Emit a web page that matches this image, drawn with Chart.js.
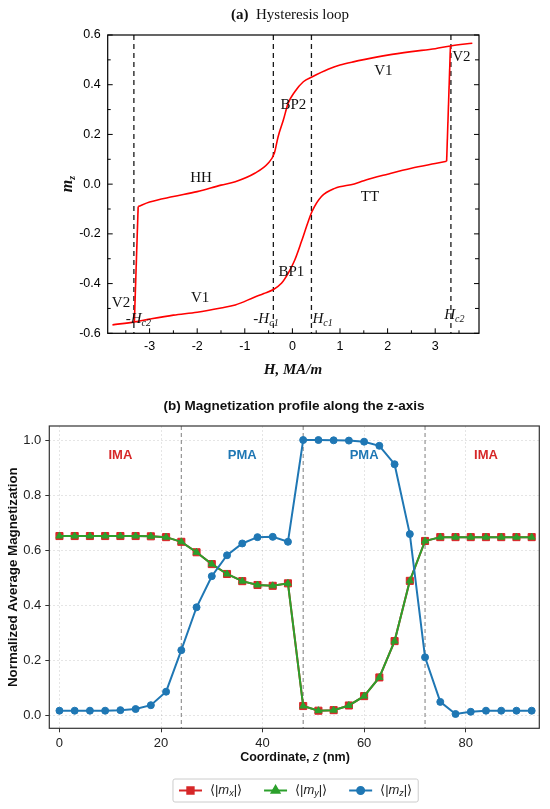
<!DOCTYPE html>
<html>
<head>
<meta charset="utf-8">
<script src="https://cdn.jsdelivr.net/npm/chart.js@4.4.1/dist/chart.umd.min.js"></script>
<style>
  html, body { margin: 0; padding: 0; background: #fff; }
  #wrapTop { position: absolute; left: 0; top: 0; width: 550px; height: 390px; }
  #wrapBottom { position: absolute; left: 0; top: 390px; width: 550px; height: 419px; }
</style>
</head>
<body>
<div id="wrapTop"><canvas id="loopChart"></canvas></div>
<div id="wrapBottom"><canvas id="profileChart"></canvas></div>
<script>
// (a) hysteresis loop - branch traced while H increases
var hUp = [-3.78, -3.31, -3.0, -2.5, -2.0, -1.5, -1.2, -0.8, -0.6, -0.4, -0.23, -0.09, 0.05, 0.19, 0.32, 0.41, 0.61, 0.89, 1.3, 1.5, 2.0, 2.5, 3.0, 3.24];
var mUp = [-0.566, -0.554, -0.543, -0.527, -0.515, -0.498, -0.486, -0.455, -0.440, -0.424, -0.399, -0.359, -0.305, -0.231, -0.157, -0.111, -0.050, -0.017, 0.001, 0.014, 0.040, 0.064, 0.083, 0.092];
var hJumpUp = [3.24, 3.32];
var mJumpUp = [0.092, 0.556];

// branch traced while H decreases (listed left to right)
var hDown = [-3.24, -3.0, -2.5, -2.0, -1.5, -1.2, -0.79, -0.51, -0.38, -0.30, -0.19, -0.09, 0.05, 0.23, 0.42, 0.75, 1.0, 1.3, 1.5, 2.0, 2.5, 3.0, 3.32, 3.78];
var mDown = [-0.090, -0.072, -0.050, -0.030, -0.004, 0.010, 0.044, 0.084, 0.124, 0.191, 0.258, 0.325, 0.372, 0.412, 0.432, 0.462, 0.479, 0.493, 0.501, 0.519, 0.533, 0.545, 0.556, 0.567];
var hJumpDown = [-3.32, -3.24];
var mJumpDown = [-0.554, -0.090];

var hcLines = [-3.33, -0.4, 0.4, 3.33];
var hTicks = [-3, -2, -1, 0, 1, 2, 3];
var hMinor = [-3.5, -2.5, -1.5, -0.5, 0.5, 1.5, 2.5, 3.5];
var mTicks = [-0.6, -0.4, -0.2, 0.0, 0.2, 0.4, 0.6];
var mMinor = [-0.5, -0.3, -0.1, 0.1, 0.3, 0.5];

var loopNotes = ["V2", "V1", "BP2", "HH", "TT", "BP1", "V1", "V2"];
var loopNoteH = [3.55, 1.91, 0.02, -1.92, 1.63, -0.02, -1.94, -3.6];
var loopNoteM = [0.513, 0.453, 0.318, 0.024, -0.05, -0.352, -0.459, -0.479];

// (b) magnetization profile
var zCoord = [0, 3, 6, 9, 12, 15, 18, 21, 24, 27, 30, 33, 36, 39, 42, 45, 48, 51, 54, 57, 60, 63, 66, 69, 72, 75, 78, 81, 84, 87, 90, 93];
var mxAvg = [0.651, 0.651, 0.651, 0.651, 0.651, 0.651, 0.650, 0.647, 0.630, 0.592, 0.549, 0.513, 0.487, 0.473, 0.470, 0.479, 0.033, 0.016, 0.018, 0.035, 0.069, 0.137, 0.269, 0.488, 0.633, 0.647, 0.647, 0.647, 0.647, 0.647, 0.647, 0.647];
var myAvg = [0.651, 0.651, 0.651, 0.651, 0.651, 0.651, 0.650, 0.647, 0.630, 0.592, 0.549, 0.513, 0.487, 0.473, 0.470, 0.479, 0.033, 0.016, 0.018, 0.035, 0.069, 0.137, 0.269, 0.488, 0.633, 0.647, 0.647, 0.647, 0.647, 0.647, 0.647, 0.647];
var mzAvg = [0.016, 0.016, 0.016, 0.016, 0.018, 0.022, 0.036, 0.085, 0.236, 0.392, 0.505, 0.581, 0.624, 0.647, 0.648, 0.630, 1.000, 1.000, 0.999, 0.998, 0.994, 0.979, 0.912, 0.658, 0.210, 0.048, 0.004, 0.012, 0.016, 0.016, 0.016, 0.016];
var layerBounds = [24, 48, 72];
var layerNames = ["IMA", "PMA", "PMA", "IMA"];
var layerNameZ = [12, 36, 60, 84];
var zTicks = [0, 20, 40, 60, 80];
var profTicks = [0.0, 0.2, 0.4, 0.6, 0.8, 1.0];

var serif = '"Liberation Serif", "Times New Roman", serif';
var sans = '"Liberation Sans", Arial, sans-serif';

function toPoints(xs, ys) {
  return xs.map(function (x, i) { return { x: x, y: ys[i] }; });
}

// draws a row of text pieces with different fonts
function drawRuns(ctx, runs, x, y, align) {
  var total = 0;
  runs.forEach(function (r) { ctx.font = r.font; r.w = ctx.measureText(r.text).width; total += r.w; });
  var cx = align === "center" ? x - total / 2 : (align === "right" ? x - total : x);
  ctx.textAlign = "left";
  runs.forEach(function (r) {
    ctx.font = r.font;
    ctx.fillText(r.text, cx, y + (r.dy || 0));
    cx += r.w;
  });
}

function line(ctx, x1, y1, x2, y2) {
  ctx.beginPath();
  ctx.moveTo(x1, y1);
  ctx.lineTo(x2, y2);
  ctx.stroke();
}

//CHART (a)

var loopDecor = {
  id: "loopDecor",
  beforeDatasetsDraw: function (chart) {
    var ctx = chart.ctx, a = chart.chartArea, xs = chart.scales.x;
    ctx.save();
    ctx.strokeStyle = "#1a1a1a";
    ctx.lineWidth = 1.3;
    ctx.setLineDash([5, 4]);
    hcLines.forEach(function (h) {
      var px = xs.getPixelForValue(h);
      line(ctx, px, a.top, px, a.bottom);
    });
    ctx.restore();
  },
  afterDraw: function (chart) {
    var ctx = chart.ctx, a = chart.chartArea, xs = chart.scales.x, ys = chart.scales.y;
    ctx.save();
    ctx.strokeStyle = "#000";
    ctx.lineWidth = 1.2;
    ctx.strokeRect(a.left, a.top, a.right - a.left, a.bottom - a.top);

    // inward ticks
    ctx.lineWidth = 1;
    hTicks.forEach(function (v) { var px = xs.getPixelForValue(v); line(ctx, px, a.bottom, px, a.bottom - 5); });
    hMinor.forEach(function (v) { var px = xs.getPixelForValue(v); line(ctx, px, a.bottom, px, a.bottom - 3); });
    mTicks.forEach(function (v) {
      var py = ys.getPixelForValue(v);
      line(ctx, a.left, py, a.left + 5, py);
      line(ctx, a.right, py, a.right - 5, py);
    });
    mMinor.forEach(function (v) {
      var py = ys.getPixelForValue(v);
      line(ctx, a.left, py, a.left + 3, py);
      line(ctx, a.right, py, a.right - 4, py);
    });

    ctx.fillStyle = "#111";
    ctx.textBaseline = "middle";
    drawRuns(ctx, [
      { text: "(a)", font: "bold 15px " + serif },
      { text: "  Hysteresis loop", font: "15px " + serif }
    ], 290, 15, "center");

    drawRuns(ctx, [{ text: "H, MA/m", font: "italic bold 15px " + serif }], 293, 370, "center");

    ctx.save();
    ctx.translate(68, 184);
    ctx.rotate(-Math.PI / 2);
    drawRuns(ctx, [
      { text: "m", font: "italic bold 16px " + serif },
      { text: "z", font: "italic bold 10px " + serif, dy: 4 }
    ], 0, 0, "center");
    ctx.restore();

    loopNotes.forEach(function (t, i) {
      drawRuns(ctx, [{ text: t, font: "15px " + serif }], xs.getPixelForValue(loopNoteH[i]), ys.getPixelForValue(loopNoteM[i]), "center");
    });

    ctx.textBaseline = "alphabetic";
    var hcLabels = [["-", "c2", -3.50, -0.557], ["-", "c1", -0.82, -0.557], ["", "c1", 0.42, -0.557], ["", "c2", 3.19, -0.541]];
    hcLabels.forEach(function (l) {
      drawRuns(ctx, [
        { text: l[0], font: "15px " + serif },
        { text: "H", font: "italic 15px " + serif },
        { text: l[1], font: "italic 10px " + serif, dy: 3 }
      ], xs.getPixelForValue(l[2]), ys.getPixelForValue(l[3]), "left");
    });
    ctx.restore();
  }
};

var redLine = { borderColor: "#ff0000", borderWidth: 1.6, pointRadius: 0, fill: false };

new Chart("loopChart", {
  type: "line",
  data: {
    datasets: [
      Object.assign({ data: toPoints(hUp, mUp), cubicInterpolationMode: "monotone" }, redLine),
      Object.assign({ data: toPoints(hJumpUp, mJumpUp), tension: 0 }, redLine),
      Object.assign({ data: toPoints(hDown, mDown), cubicInterpolationMode: "monotone" }, redLine),
      Object.assign({ data: toPoints(hJumpDown, mJumpDown), tension: 0 }, redLine)
    ]
  },
  options: {
    responsive: true,
    maintainAspectRatio: false,
    animation: false,
    layout: { padding: { top: 35, left: 0, right: 71, bottom: 16.7 } },
    plugins: { legend: { display: false }, tooltip: { enabled: false }, title: { display: false } },
    scales: {
      x: {
        type: "linear",
        min: -3.88,
        max: 3.92,
        grid: { display: false, drawTicks: false },
        border: { display: false },
        afterBuildTicks: function (s) { s.ticks = hTicks.map(function (v) { return { value: v }; }); },
        afterFit: function (s) { s.height = 40; },
        ticks: { padding: 6, color: "#000", font: { family: sans, size: 12.5 }, callback: function (v) { return String(v); } }
      },
      y: {
        type: "linear",
        min: -0.6,
        max: 0.6,
        grid: { display: false, drawTicks: false },
        border: { display: false },
        afterBuildTicks: function (s) { s.ticks = mTicks.map(function (v) { return { value: v }; }); },
        afterFit: function (s) { s.width = 107.7; },
        ticks: { padding: 7, color: "#000", font: { family: sans, size: 12.5 }, callback: function (v) { return v.toFixed(1); } }
      }
    }
  },
  plugins: [loopDecor]
});

//CHART (b)

var profColors = ["#d62728", "#2ca02c", "#1f77b4"];
var layerColors = { IMA: "#d62728", PMA: "#1f77b4" };

var profileDecor = {
  id: "profileDecor",
  beforeDatasetsDraw: function (chart) {
    var ctx = chart.ctx, a = chart.chartArea, xs = chart.scales.x;
    ctx.save();
    ctx.strokeStyle = "#8a8a8a";
    ctx.lineWidth = 1.1;
    ctx.setLineDash([4, 3]);
    layerBounds.forEach(function (z) {
      var px = xs.getPixelForValue(z);
      line(ctx, px, a.top, px, a.bottom);
    });
    ctx.restore();
  },
  afterDraw: function (chart) {
    var ctx = chart.ctx, a = chart.chartArea, xs = chart.scales.x, ys = chart.scales.y;
    ctx.save();
    ctx.strokeStyle = "#333";
    ctx.lineWidth = 1.2;
    ctx.strokeRect(a.left, a.top, a.right - a.left, a.bottom - a.top);

    ctx.textBaseline = "middle";
    layerNames.forEach(function (n, i) {
      ctx.fillStyle = layerColors[n];
      drawRuns(ctx, [{ text: n, font: "bold 13px " + sans }], xs.getPixelForValue(layerNameZ[i]), ys.getPixelForValue(0.945), "center");
    });

    ctx.fillStyle = "#111";
    drawRuns(ctx, [{ text: "(b) Magnetization profile along the z-axis", font: "bold 13.5px " + sans }], 294, 16, "center");
    drawRuns(ctx, [
      { text: "Coordinate, ", font: "bold 12.5px " + sans },
      { text: "z", font: "italic 12.5px " + sans },
      { text: " (nm)", font: "bold 12.5px " + sans }
    ], 295, 368, "center");

    ctx.save();
    ctx.translate(13.5, (a.top + a.bottom) / 2);
    ctx.rotate(-Math.PI / 2);
    drawRuns(ctx, [{ text: "Normalized Average Magnetization", font: "bold 13.3px " + sans }], 0, 0, "center");
    ctx.restore();

    // legend
    var subs = ["x", "y", "z"];
    var styles = ["rect", "triangle", "circle"];
    var radii = [4.5, 4.5, 3.5];
    var items = subs.map(function (s) {
      return [
        { text: "\u27E8|", font: "13px " + sans },
        { text: "m", font: "italic 13px " + sans },
        { text: s, font: "italic 9px " + sans, dy: 3 },
        { text: "|\u27E9", font: "13px " + sans }
      ];
    });
    var handle = 23, gap = 8, spacing = 22, pad = 6;
    var widths = items.map(function (runs) {
      var w = 0;
      runs.forEach(function (r) { ctx.font = r.font; w += ctx.measureText(r.text).width; });
      return w;
    });
    var total = pad * 2 + spacing * 2;
    widths.forEach(function (w) { total += handle + gap + w; });
    var bx = 295.6 - total / 2, by = 389, bh = 23;
    ctx.fillStyle = "#fff";
    ctx.strokeStyle = "#cccccc";
    ctx.lineWidth = 1;
    ctx.beginPath();
    ctx.roundRect(bx, by, total, bh, 2);
    ctx.fill();
    ctx.stroke();
    var cx = bx + pad, cy = by + bh / 2;
    items.forEach(function (runs, i) {
      ctx.strokeStyle = profColors[i];
      ctx.fillStyle = profColors[i];
      ctx.lineWidth = 2;
      line(ctx, cx, cy, cx + handle, cy);
      Chart.helpers.drawPoint(ctx, { pointStyle: styles[i], radius: radii[i], borderWidth: 1, rotation: 0 }, cx + handle / 2, cy);
      ctx.fillStyle = "#222";
      drawRuns(ctx, runs, cx + handle + gap, cy, "left");
      cx += handle + gap + widths[i] + spacing;
    });
    ctx.restore();
  }
};

new Chart("profileChart", {
  type: "line",
  data: {
    datasets: [
      { label: "mx", data: toPoints(zCoord, mxAvg), order: 3, borderColor: profColors[0], backgroundColor: profColors[0], borderWidth: 2, pointStyle: "rect", pointRadius: 5, pointBorderWidth: 1, tension: 0 },
      { label: "my", data: toPoints(zCoord, myAvg), order: 2, borderColor: profColors[1], backgroundColor: profColors[1], borderWidth: 2, pointStyle: "triangle", pointRadius: 4, pointBorderWidth: 1, tension: 0 },
      { label: "mz", data: toPoints(zCoord, mzAvg), order: 1, borderColor: profColors[2], backgroundColor: profColors[2], borderWidth: 2, pointStyle: "circle", pointRadius: 3.5, pointBorderWidth: 1, tension: 0 }
    ]
  },
  options: {
    responsive: true,
    maintainAspectRatio: false,
    animation: false,
    layout: { padding: { top: 36, left: 0, right: 10.7, bottom: 40.7 } },
    plugins: { legend: { display: false }, tooltip: { enabled: false }, title: { display: false } },
    scales: {
      x: {
        type: "linear",
        min: -2,
        max: 94.5,
        grid: { color: "rgba(0,0,0,0.13)", lineWidth: 0.8, tickLength: 4, tickColor: "#333", tickWidth: 1, tickBorderDash: [] },
        border: { display: false, dash: [2, 2] },
        afterBuildTicks: function (s) { s.ticks = zTicks.map(function (v) { return { value: v }; }); },
        afterFit: function (s) { s.height = 40; },
        ticks: { padding: 3, color: "#222", font: { family: sans, size: 13 } }
      },
      y: {
        type: "linear",
        min: -0.048,
        max: 1.051,
        grid: { color: "rgba(0,0,0,0.13)", lineWidth: 0.8, tickLength: 4, tickColor: "#333", tickWidth: 1, tickBorderDash: [] },
        border: { display: false, dash: [2, 2] },
        afterBuildTicks: function (s) { s.ticks = profTicks.map(function (v) { return { value: v }; }); },
        afterFit: function (s) { s.width = 49.3; },
        ticks: { padding: 4, color: "#222", font: { family: sans, size: 13 }, callback: function (v) { return v.toFixed(1); } }
      }
    }
  },
  plugins: [profileDecor]
});
</script>
</body>
</html>
